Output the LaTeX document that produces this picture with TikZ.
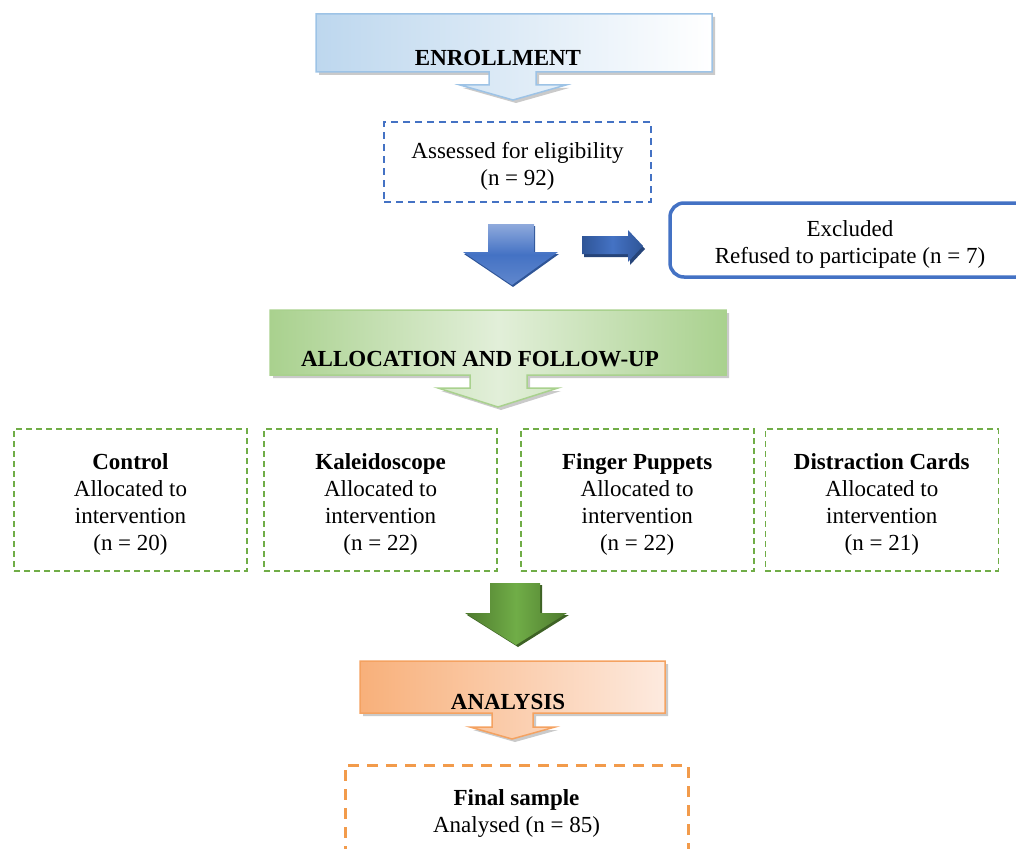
\documentclass[tikz,border=0pt]{standalone}
\usepackage{fontspec}
\setmainfont{Liberation Serif}
\usepackage{tikz}
\usetikzlibrary{positioning,shadows}
\definecolor{enrollfill}{HTML}{BDD7EE}
\definecolor{enrolline}{HTML}{9DC3E6}
\definecolor{boxblue}{HTML}{4472C4}
\definecolor{darkblue}{HTML}{2F5597}
\definecolor{lightblue}{HTML}{8FAADC}
\definecolor{allocfill}{HTML}{A9D18E}
\definecolor{alloclight}{HTML}{E2EFD9}
\definecolor{groupgreen}{HTML}{70AD47}
\definecolor{darkgreen}{HTML}{4E7A2E}
\definecolor{analysfill}{HTML}{F8B07A}
\definecolor{analyslight}{HTML}{FDEADF}
\definecolor{analysline}{HTML}{F4A261}
\definecolor{finalorange}{HTML}{F29B4B}

\begin{document}
\begin{tikzpicture}[x=1pt, y=-1pt, node distance=17pt and 17pt,
  every node/.style={font=\fontsize{23}{27}\selectfont, align=center, inner sep=0pt},
  title/.style={font=\fontsize{23}{27}\selectfont\bfseries},
  lowtext/.style={text depth=0pt, yshift=-2pt},
  bluebanner/.style={draw=enrolline, line width=1.5pt, left color=enrollfill, right color=white,
    drop shadow={shadow xshift=3pt, shadow yshift=-3pt, fill=black!35, opacity=.6}},
  greenbanner/.style={draw=allocfill, line width=1.5pt, left color=allocfill, right color=allocfill, middle color=alloclight,
    drop shadow={shadow xshift=3pt, shadow yshift=-3pt, fill=black!35, opacity=.6}},
  orangebanner/.style={draw=analysline, line width=1.5pt, left color=analysfill, right color=analyslight,
    drop shadow={shadow xshift=3pt, shadow yshift=-3pt, fill=black!35, opacity=.6}},
  bluearrow/.style={top color=lightblue, bottom color=boxblue!85, middle color=boxblue,
    drop shadow={shadow xshift=1pt, shadow yshift=-2pt, fill=darkblue, opacity=1}},
  sidearrow/.style={left color=darkblue, right color=darkblue, middle color=boxblue,
    drop shadow={shadow xshift=2pt, shadow yshift=-3pt, fill=darkblue!80!black, opacity=1}},
  greenarrow/.style={left color=darkgreen, right color=darkgreen, middle color=groupgreen,
    drop shadow={shadow xshift=2pt, shadow yshift=-2pt, fill=darkgreen!80!black, opacity=1}},
  dashblue/.style={draw=boxblue, dash pattern=on 7pt off 5pt, line width=1.6pt, minimum width=267pt, minimum height=80pt},
  exclbox/.style={draw=boxblue, line width=3.5pt, rounded corners=14pt, minimum width=360pt, minimum height=74pt},
  groupbox/.style={draw=groupgreen, dash pattern=on 6pt off 4pt, line width=1.6pt, minimum width=233pt, minimum height=142pt},
  finalbox/.style={draw=finalorange, dash pattern=on 11pt off 8pt, line width=3pt, minimum width=343pt, minimum height=88pt}]
\useasboundingbox (0,0) rectangle (1016,848);
% enrollment
\path[bluebanner] (316,14) -- (712,14) -- (712,72) -- (536,72) -- (536,85) -- (566,85) -- (513,100)
  -- (460,85) -- (489,85) -- (489,72) -- (316,72) -- cycle;
\node[title] (enroll) at (498,58) {ENROLLMENT};
\node[dashblue] (assess) at (517.5,162) {};
\node[lowtext] (assesstext) at (assess) {Assessed for eligibility\\(n = 92)};
\path[bluearrow] (488,224) -- (534,224) -- (534,252) -- (558,252) -- (512,285) -- (463,252) -- (488,252) -- cycle;
\path[sidearrow] (582,236) -- (628,236) -- (628,230) -- (643,246) -- (628,262) -- (628,254) -- (582,254) -- cycle;
\node[exclbox] (excluded) at (850,240) {};
\node[lowtext] (excludedtext) at (excluded) {Excluded\\Refused to participate (n = 7)};
% allocation
\path[greenbanner] (270,310) -- (726,310) -- (726,375) -- (527,375) -- (527,388) -- (558,388) -- (498,407)
  -- (438,388) -- (470,388) -- (470,375) -- (270,375) -- cycle;
\node[title] (alloc) at (480,359) {ALLOCATION AND FOLLOW-UP};
\node[groupbox] (control) at (130.5,500) {};
\node[groupbox,right=15.5pt of control] (kaleido) {};
\node[groupbox,right=22pt of kaleido] (puppets) {};
\node[groupbox,right=10pt of puppets] (cards) {};
\node[lowtext] (controltext) at (control) {\textbf{Control}\\Allocated to\\intervention\\(n = 20)};
\node[lowtext] (kaleidotext) at (kaleido) {\textbf{Kaleidoscope}\\Allocated to\\intervention\\(n = 22)};
\node[lowtext] (puppetstext) at (puppets) {\textbf{Finger Puppets}\\Allocated to\\intervention\\(n = 22)};
\node[lowtext] (cardstext) at (cards) {\textbf{Distraction Cards}\\Allocated to\\intervention\\(n = 21)};
\path[greenarrow] (490,583) -- (540,583) -- (540,613) -- (567,613) -- (516,645) -- (465,613) -- (490,613) -- cycle;
% analysis
\path[orangebanner] (360,661) -- (665,661) -- (665,713) -- (533,713) -- (533,727) -- (555,727) -- (512,739)
  -- (470,727) -- (492,727) -- (492,713) -- (360,713) -- cycle;
\node[title] (analysis) at (508,702) {ANALYSIS};
\node[finalbox] (final) at (516.5,809) {};
\node[lowtext] (finaltext) at (final) {\textbf{Final sample}\\Analysed (n = 85)};
\end{tikzpicture}
\end{document}
